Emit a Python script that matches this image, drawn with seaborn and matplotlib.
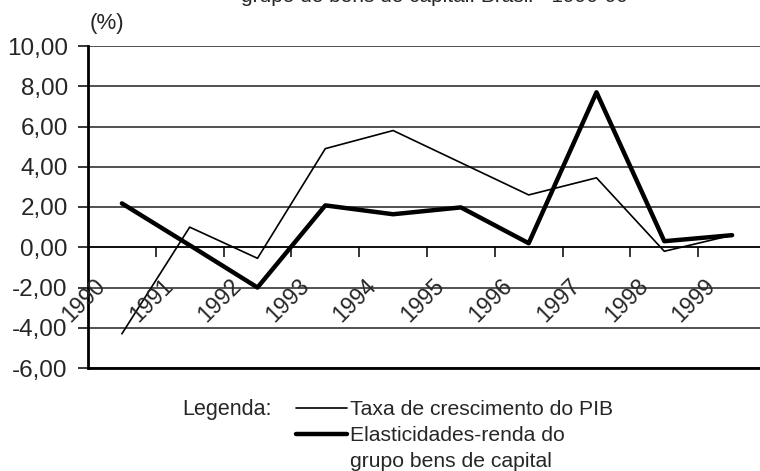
import numpy as np
import pandas as pd
import seaborn as sns
import matplotlib.pyplot as plt
from matplotlib.lines import Line2D

anos = ["1990", "1991", "1992", "1993", "1994", "1995", "1996", "1997", "1998", "1999"]
pib = [-4.3, 1.0, -0.55, 4.9, 5.8, 4.2, 2.6, 3.45, -0.2, 0.6]
elasticidade = [2.18, 0.1, -2.0, 2.08, 1.64, 1.98, 0.2, 7.7, 0.3, 0.6]
y_ticks = [10, 8, 6, 4, 2, 0, -2, -4, -6]

sns.set_theme(style="white")
plt.rcParams['font.family'] = ['Liberation Sans', 'DejaVu Sans']

df = pd.DataFrame({"pos": np.arange(len(anos)), "pib": pib, "elast": elasticidade})

fig = plt.figure(figsize=(7.6, 4.71), dpi=100)
ax = fig.add_axes([88 / 760, 1 - 368 / 471, (766 - 88) / 760, (368 - 46) / 471])

# linhas de grade
for v in y_ticks:
    ax.axhline(v, color="#222222", lw=1.1, zorder=0)

sns.lineplot(data=df, x="pos", y="pib", color="black", lw=1.2, ax=ax)
sns.lineplot(data=df, x="pos", y="elast", color="black", lw=3.2, ax=ax)

ax.set_xlim(-0.5, len(anos) - 0.5)
ax.set_ylim(-6, 10)
ax.set_xlabel("")
ax.set_ylabel("")

ax.set_yticks(y_ticks)
ax.set_yticklabels([f"{v:.2f}".replace(".", ",") for v in y_ticks], fontsize=17.5)
ax.tick_params(axis="y", left=True, length=7, width=1.1, color="black", pad=7.5)

# eixo de categorias cruzando no zero
ax.spines["bottom"].set_position(("data", 0))
ax.spines["bottom"].set_color("black")
ax.spines["bottom"].set_linewidth(1.1)
ax.set_xticks(np.arange(len(anos)) + 0.5)
ax.set_xticklabels([])
ax.tick_params(axis="x", bottom=True, length=7, width=1.1, color="black", direction="out")
ax.axhline(-6, color="black", lw=2, clip_on=False)
ax.spines["left"].set_color("black")
ax.spines["left"].set_linewidth(2)
ax.spines["top"].set_visible(False)
ax.spines["right"].set_visible(False)

for i, ano in enumerate(anos):
    ax.text(i - 0.56, -2.65, ano, rotation=45, ha="center", va="center", fontsize=16.5)

fig.text(90 / 760, 1 - 24 / 471, "(%)", fontsize=16, va="center", ha="left")
fig.text(435 / 760, 1 - 1.5 / 471, "grupo de bens de capital: Brasil - 1990-99",
         fontsize=15, ha="center", va="baseline")

fig.text(182 / 760, 1 - 410 / 471, "Legenda:", fontsize=15.5, va="center", ha="left")
handles = [Line2D([], [], color="black", lw=1.2),
           Line2D([], [], color="black", lw=3.2),
           Line2D([], [], color="none")]
labels = ["Taxa de crescimento do PIB", "Elasticidades-renda do", "grupo bens de capital"]
fig.legend(handles, labels, loc="upper left", bbox_to_anchor=(296 / 760, 1 - 400 / 471),
           frameon=False, fontsize=15.2, handlelength=2.4, handletextpad=0.15,
           labelspacing=0.33, borderpad=0, borderaxespad=0)

fig.savefig("out.png", dpi=100)
